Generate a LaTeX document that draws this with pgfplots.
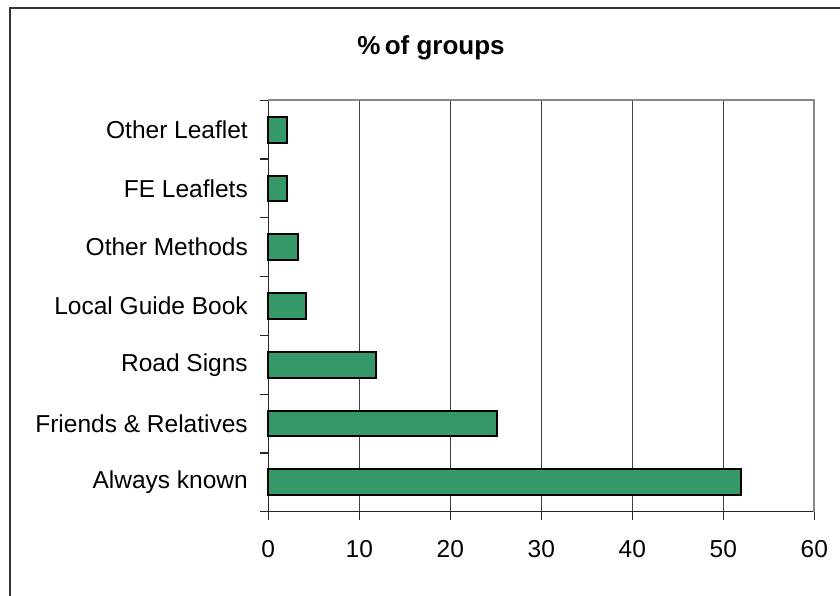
\documentclass[border=0pt]{standalone}
\usepackage{pgfplots}
\pgfplotsset{compat=1.18}
\usepackage{fontspec}
\setmainfont{Liberation Sans}
\definecolor{barGreen}{RGB}{52,153,102}
\definecolor{gridGray}{RGB}{64,64,64}
\definecolor{boxGray}{RGB}{136,136,136}
\begin{document}
\begin{tikzpicture}[x=1bp,y=1bp]
\useasboundingbox (0,0) rectangle (840,596);
% outer chart frame (left and top visible)
\draw[line width=2bp, color=black!80] (10,0) -- (10,588) -- (840,588);
\node[font=\fontsize{26bp}{30bp}\selectfont\bfseries] at (431,548) {\%\,of groups};
\begin{axis}[
  at={(268.3bp,84.3bp)}, anchor=south west,
  scale only axis, width=546bp, height=411.4bp,
  xmin=0, xmax=60, ymin=-0.5, ymax=6.5,
  xtick={0,10,...,60},
  ytick={0,1,2,3,4,5,6},
  yticklabels={Always known,Friends \& Relatives,Road Signs,Local Guide Book,Other Methods,FE Leaflets,Other Leaflet},
  axis x line*=bottom, axis y line*=left,
  axis line style={line width=1.2bp, black!85, -},
  tick align=outside,
  major tick length=8bp,
  x tick style={line width=1.2bp, black!85},
  y tick style={draw=none},
  extra y ticks={-0.5,0.5,1.5,2.5,3.5,4.5,5.5,6.5},
  extra y tick labels={},
  extra y tick style={y tick style={draw=black!85, line width=1.2bp}, major tick length=8bp, tick align=outside},
  xmajorgrids,
  major x grid style={gridGray, line width=0.8bp},
  /pgf/number format/assume math mode=true,
  ticklabel style={font=\fontsize{24.5bp}{28bp}\selectfont},
  xticklabel style={yshift=-17bp},
  yticklabel style={xshift=-9bp},
  clip=false,
]
\addplot[xbar, fill=barGreen, draw=black, line width=2bp, bar width=0.44]
  coordinates {(51.9,0) (25.1,1) (11.8,2) (4.1,3) (3.3,4) (2.0,5) (2.0,6)};
\draw[boxGray, line width=2bp] (rel axis cs:0,1) -- (rel axis cs:1,1) -- (rel axis cs:1,0);
\end{axis}
\end{tikzpicture}
\end{document}
